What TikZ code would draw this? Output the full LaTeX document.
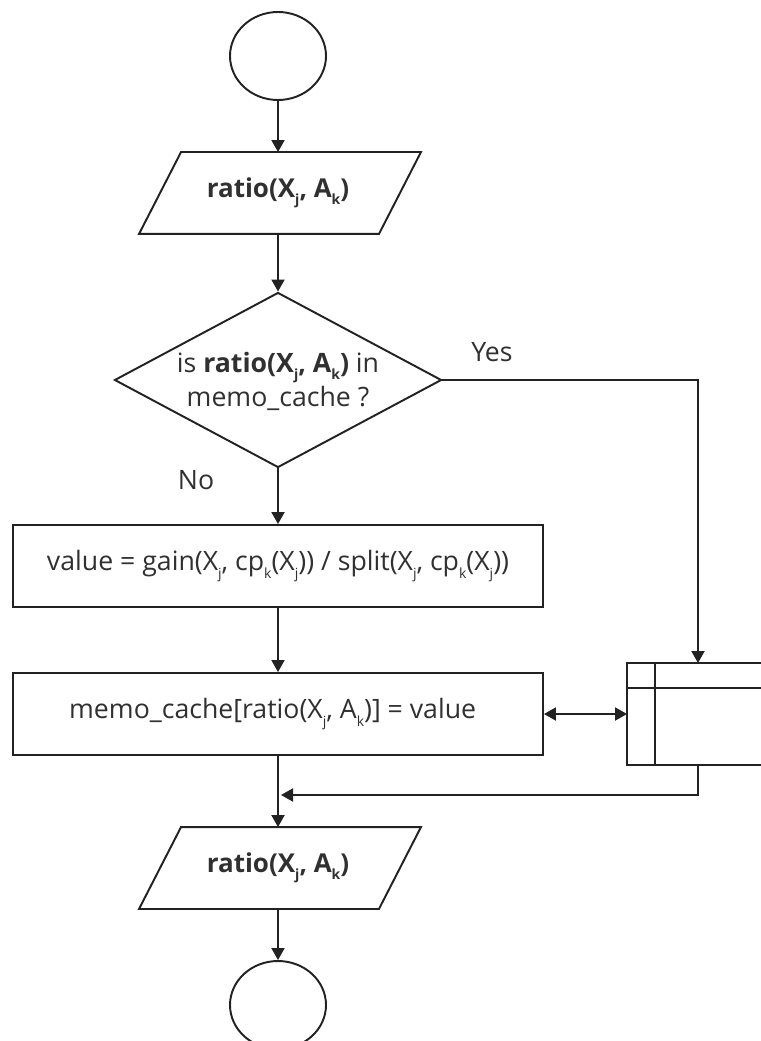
\documentclass[tikz,border=0pt]{standalone}
\usepackage{fontspec}
\setmainfont{Open Sans}
\usetikzlibrary{shapes.geometric,arrows.meta}
\newlength{\pxu}\setlength{\pxu}{0.75pt}
\newcommand{\sbt}[1]{\raisebox{-0.28em}{\fontsize{10.5}{10.5}\selectfont #1}}
\definecolor{ink}{HTML}{222222}
\definecolor{txt}{HTML}{303030}
\begin{document}
\begin{tikzpicture}[x=0.75pt,y=-0.75pt,line width=1.45pt,color=ink,
  font=\fontsize{20}{25.5}\selectfont,
  flow/.style={-{Triangle[length=9pt,width=9.75pt]}},
  both/.style={{Triangle[length=9pt,width=9.75pt]}-{Triangle[length=9pt,width=9.75pt]}},
  terminal/.style={ellipse,draw,minimum width=72pt,minimum height=66pt,inner sep=0pt},
  procbox/.style={rectangle,draw,minimum width=397.5pt,minimum height=61.5pt,inner sep=0pt,text=txt},
  iobox/.style={rectangle,minimum width=178.5pt,minimum height=60pt,inner sep=0pt,text=txt,font=\fontsize{19.5}{23}\selectfont\bfseries},
  tag/.style={text=txt,inner sep=0pt}]
\useasboundingbox (0,0) rectangle (760,1041);

% start / end terminals
\node[terminal] (start) at (278,56) {};
\node[terminal] (stop) at (278,1005) {};

% input parallelogram
\node[iobox] (in) at (278,193) {ratio(X\sbt{j}, A\sbt{k})};
\draw ([xshift=-19\pxu]in.south west) -- ([xshift=-19\pxu]in.south east)
   -- ([xshift=23\pxu]in.north east) -- ([xshift=23\pxu]in.north west) -- cycle;

% decision
\node[diamond,draw,minimum width=245.25pt,minimum height=131.25pt,inner sep=0pt] (q) at (278,380) {};
\node[align=center,text=txt,inner sep=0pt] (qt) at (278,381)
  {is \textbf{ratio(X\sbt{j}, A\sbt{k})} in\\memo\_cache ?};
\node[tag] (yes) at (492,352) {Yes};
\node[tag] (no) at (196,480) {No};

% processing steps
\node[procbox] (calc) at (278,566)
  {value = gain(X\sbt{j}, cp\sbt{k}(X\sbt{j})) / split(X\sbt{j}, cp\sbt{k}(X\sbt{j}))};
\node[procbox] (save) at (278,714) {\hspace*{-8pt}memo\_cache[ratio(X\sbt{j}, A\sbt{k})] = value};

% memo store (internal storage symbol, open to the right)
\node[minimum width=99pt,minimum height=75pt,inner sep=0pt] (store) at (694,714) {};
\draw (store.north east) -- (store.north west) -- (store.south west) -- (store.south east);
\draw ([yshift=-25\pxu]store.north west) -- ([yshift=-25\pxu]store.north east);
\draw ([xshift=28\pxu]store.north west) -- ([xshift=28\pxu]store.south west);

% output parallelogram
\node[iobox] (out) at (278,868) {ratio(X\sbt{j}, A\sbt{k})};
\draw ([xshift=-19\pxu]out.south west) -- ([xshift=-19\pxu]out.south east)
   -- ([xshift=23\pxu]out.north east) -- ([xshift=23\pxu]out.north west) -- cycle;

% connectors
\coordinate (yturn) at (698,380);
\coordinate (sdown) at (698,795);
\draw[flow] (start) -- (in);
\draw[flow] (in) -- (q);
\draw[flow] (q) -- (calc);
\draw[flow] (calc) -- (save);
\draw[flow] (q.east) -- (yturn) -- (yturn |- store.north);
\draw[both] (save) -- (store);
\draw[flow] (save) -- (out);
\draw[flow,shorten >=2.25pt] (store.south -| sdown) -- (sdown) -- (sdown -| save.south);
\draw[flow] (out) -- (stop);
\end{tikzpicture}
\end{document}
